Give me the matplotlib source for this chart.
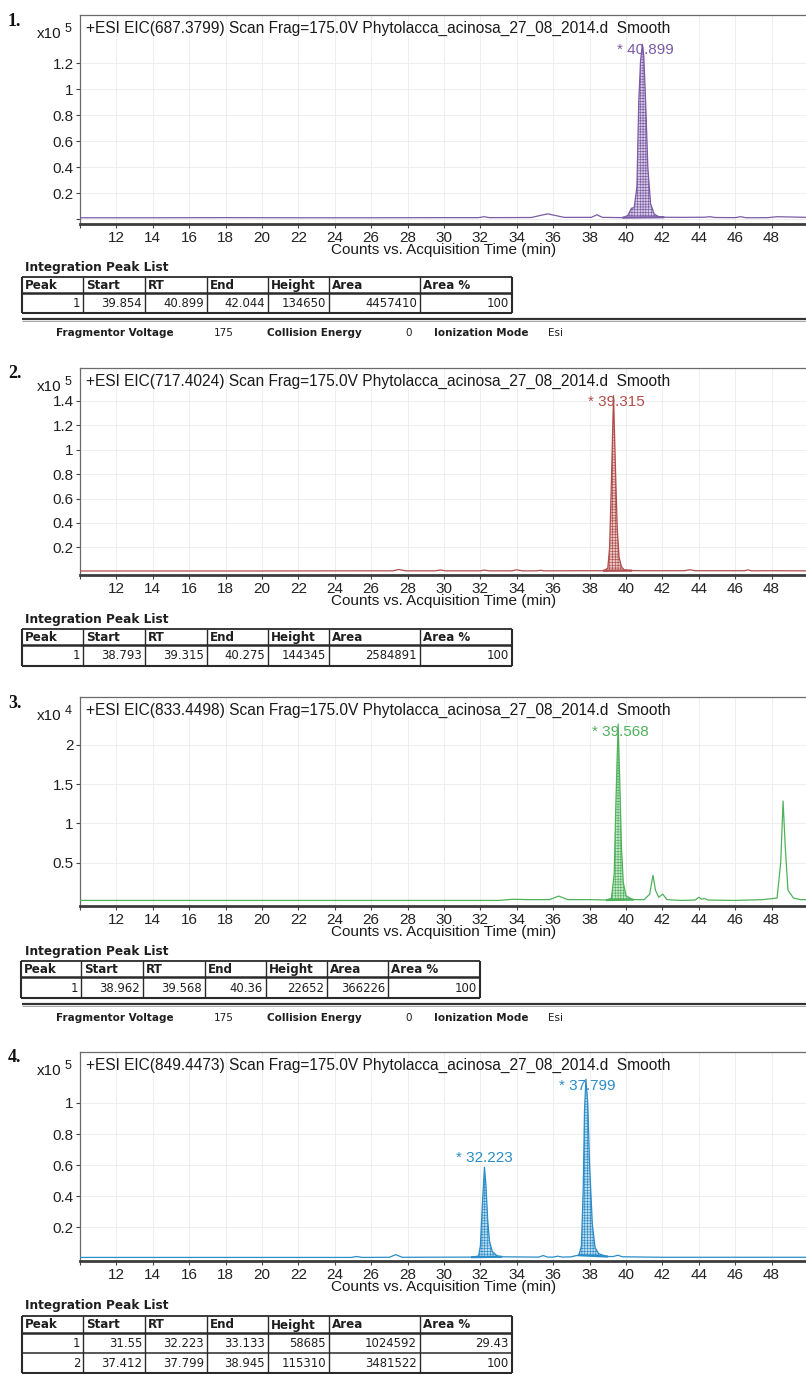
import numpy as np
import matplotlib.pyplot as plt
from matplotlib.lines import Line2D

# ---- values ----
# panel 1, EIC(687.3799), counts x10^5
t1 = [10, 14, 18, 22, 26, 30, 31.9, 32.2, 32.5, 34.8, 35.3, 35.7, 36.1, 36.6,
      38.1, 38.4, 38.7, 39.854, 40.1, 40.3, 40.45, 40.6, 40.7, 40.8, 40.899,
      40.98, 41.08, 41.2, 41.35, 41.55, 41.8, 42.044, 43.0, 44.3, 44.6, 44.9,
      46.0, 46.3, 46.6, 47.8, 48.3, 49.0, 50]
i1 = [0.012, 0.012, 0.013, 0.012, 0.012, 0.013, 0.013, 0.02, 0.013, 0.014,
      0.03, 0.042, 0.03, 0.015, 0.015, 0.035, 0.015, 0.013, 0.03, 0.085, 0.09,
      0.25, 0.9, 1.22, 1.3465, 1.25, 0.9, 0.4, 0.12, 0.04, 0.02, 0.016, 0.015,
      0.016, 0.02, 0.014, 0.013, 0.02, 0.012, 0.013, 0.02, 0.018, 0.015]

# panel 2, EIC(717.4024), counts x10^5
t2 = [10, 15, 20, 25, 27.2, 27.5, 27.9, 29.5, 29.8, 30.1, 32.0, 32.2, 32.5,
      33.7, 34.0, 34.3, 35.1, 35.3, 35.5, 37.6, 38.793, 39.0, 39.1, 39.2,
      39.315, 39.42, 39.52, 39.62, 39.75, 39.9, 40.275, 41.0, 43.2, 43.5, 43.8,
      46.5, 46.7, 46.9, 48.0, 50]
i2 = [0.006, 0.006, 0.006, 0.007, 0.007, 0.018, 0.007, 0.007, 0.014, 0.007,
      0.007, 0.013, 0.007, 0.007, 0.015, 0.007, 0.007, 0.012, 0.007, 0.008,
      0.008, 0.03, 0.2, 0.75, 1.443, 0.85, 0.35, 0.12, 0.04, 0.015, 0.009,
      0.008, 0.008, 0.016, 0.008, 0.008, 0.015, 0.007, 0.008, 0.007]

# panel 3, EIC(833.4498), counts x10^4
t3 = [10, 20, 30, 33.0, 33.8, 34.6, 35.8, 36.3, 36.8, 38.0, 38.962, 39.2,
      39.35, 39.45, 39.568, 39.65, 39.75, 39.85, 40.0, 40.36, 41.0, 41.3,
      41.48, 41.62, 41.8, 42.02, 42.25, 43.0, 43.8, 44.0, 44.15, 44.3, 44.5,
      46.0, 47.5, 48.3, 48.5, 48.63, 48.75, 48.9, 49.2, 49.6, 50]
i3 = [0.02, 0.02, 0.02, 0.02, 0.035, 0.03, 0.03, 0.075, 0.03, 0.03, 0.025,
      0.05, 0.35, 1.3, 2.2652, 1.6, 0.7, 0.25, 0.08, 0.03, 0.03, 0.1, 0.34,
      0.15, 0.06, 0.1, 0.03, 0.02, 0.025, 0.06, 0.035, 0.045, 0.025, 0.02,
      0.03, 0.05, 0.5, 1.285, 0.7, 0.15, 0.05, 0.03, 0.03]

# panel 4, EIC(849.4473), counts x10^5
t4 = [10, 15, 20, 24.9, 25.2, 25.5, 27.0, 27.35, 27.7, 31.55, 31.9, 32.0,
      32.1, 32.223, 32.3, 32.4, 32.5, 32.65, 32.9, 33.133, 35.2, 35.45, 35.7,
      36.0, 36.25, 36.5, 37.0, 37.2, 37.412, 37.55, 37.65, 37.72, 37.799,
      37.9, 38.0, 38.15, 38.3, 38.5, 38.945, 39.3, 39.55, 39.8, 42, 46, 50]
i4 = [0.006, 0.006, 0.006, 0.006, 0.012, 0.006, 0.007, 0.024, 0.007, 0.008,
      0.015, 0.08, 0.33, 0.5869, 0.48, 0.25, 0.11, 0.045, 0.018, 0.01, 0.008,
      0.018, 0.008, 0.008, 0.014, 0.008, 0.01, 0.016, 0.02, 0.08, 0.45, 0.95,
      1.1531, 1.0, 0.6, 0.22, 0.07, 0.03, 0.012, 0.012, 0.02, 0.01, 0.007,
      0.007, 0.007]

titles = [
    "+ESI EIC(687.3799) Scan Frag=175.0V Phytolacca_acinosa_27_08_2014.d  Smooth",
    "+ESI EIC(717.4024) Scan Frag=175.0V Phytolacca_acinosa_27_08_2014.d  Smooth",
    "+ESI EIC(833.4498) Scan Frag=175.0V Phytolacca_acinosa_27_08_2014.d  Smooth",
    "+ESI EIC(849.4473) Scan Frag=175.0V Phytolacca_acinosa_27_08_2014.d  Smooth",
]
exponents = [5, 5, 4, 5]

# integration peak lists: peak, start, RT, end, height, area, area %
table1 = [[1, 39.854, 40.899, 42.044, 134650, 4457410, 100]]
table2 = [[1, 38.793, 39.315, 40.275, 144345, 2584891, 100]]
table3 = [[1, 38.962, 39.568, 40.36, 22652, 366226, 100]]
table4 = [[1, 31.55, 32.223, 33.133, 58685, 1024592, 29.43],
          [2, 37.412, 37.799, 38.945, 115310, 3481522, 100]]
table_heads = ["Peak", "Start", "RT", "End", "Height", "Area", "Area %"]

info_labels = ["Fragmentor Voltage", "Collision Energy", "Ionization Mode"]
info_values = ["175", "0", "Esi"]

xticks = list(range(10, 50, 2))

# ---- layout (pixel positions of the scan) ----
W, H = 806, 1374
plt.rcParams['font.family'] = ['Liberation Sans', 'DejaVu Sans']
plt.rcParams['hatch.linewidth'] = 0.45
fig = plt.figure(figsize=(W / 100, H / 100), dpi=100)
PT = 0.72  # points per pixel


def fx(x):
    return x / W


def fy(y):
    return 1 - y / H


def line(x0, x1, y0, y1, lw, color='#2a2a2a'):
    fig.add_artist(Line2D([fx(x0), fx(x1)], [fy(y0), fy(y1)], lw=lw,
                          color=color, solid_capstyle='butt'))


def fmt(v):
    return ('%.3f' % v).rstrip('0').rstrip('.')


cols_a = [22, 83, 145, 207, 268, 329, 420, 512]
cols_b = [21, 81, 143, 205, 266, 327, 388, 480]
tf = dict(family='DejaVu Sans', color='#1e1e1e')


def draw_table(rows, label_y, top, hdr_b, row_h, cols):
    fig.text(fx(25), fy(label_y), "Integration Peak List", fontsize=8.7,
             fontweight='bold', va='center', **tf)
    bottom = hdr_b + row_h * len(rows)
    line(cols[0], cols[-1], top, top, 1.3)
    line(cols[0], cols[-1], hdr_b, hdr_b, 1.8)
    for k in range(1, len(rows)):
        line(cols[0], cols[-1], hdr_b + k * row_h, hdr_b + k * row_h, 1.1)
    line(cols[0], cols[-1], bottom, bottom, 1.5)
    for k, c in enumerate(cols):
        line(c, c, top, bottom, 1.5 if k in (0, len(cols) - 1) else 1.0)
    for k, h in enumerate(table_heads):
        fig.text(fx(cols[k] + 3), fy((top + hdr_b) / 2 + 0.5), h, fontsize=8.6,
                 fontweight='bold', va='center', **tf)
    for r, row in enumerate(rows):
        yc = hdr_b + row_h * (r + 0.5) + 0.5
        for k, v in enumerate(row):
            fig.text(fx(cols[k + 1] - 3), fy(yc), fmt(v), fontsize=8.4,
                     ha='right', va='center', **tf)


def draw_info(sep_y, text_y):
    line(22, 808, sep_y, sep_y, 1.6, '#333333')
    line(22, 808, sep_y + 2, sep_y + 2, 0.6, '#999999')
    for x, s in zip([56, 267, 434], info_labels):
        fig.text(fx(x), fy(text_y), s, fontsize=7.5, fontweight='bold',
                 va='center', **tf)
    for x, s in zip([214, 405, 548], info_values):
        fig.text(fx(x), fy(text_y), s, fontsize=7.5, va='center', **tf)


# offs: label shift from the apex in pixels (right, down)
panels = [
    dict(t=t1, i=i1, tab=table1, color='#7b5aa6', top=15, bottom=224,
         ylim=(-0.036, 1.572), yticks=[0, 0.2, 0.4, 0.6, 0.8, 1.0, 1.2],
         offs=[(3, 6)], num_y=21),
    dict(t=t2, i=i2, tab=table2, color='#b04d4a', top=368, bottom=575,
         ylim=(-0.027, 1.670), yticks=[0.2, 0.4, 0.6, 0.8, 1.0, 1.2, 1.4],
         offs=[(3, 6)], num_y=374),
    dict(t=t3, i=i3, tab=table3, color='#4fb25b', top=697, bottom=906,
         ylim=(-0.051, 2.608), yticks=[0.5, 1.0, 1.5, 2.0],
         offs=[(2, 8)], num_y=703),
    dict(t=t4, i=i4, tab=table4, color='#2a8cc8', top=1052, bottom=1261,
         ylim=(-0.017, 1.328), yticks=[0.2, 0.4, 0.6, 0.8, 1.0],
         offs=[(0, -9), (1, 7)], num_y=1058),
]

for n, p in enumerate(panels):
    ax = fig.add_axes([fx(80), fy(p['bottom']), (808 - 80) / W,
                       (p['bottom'] - p['top']) / H])
    t = np.array(p['t'])
    y = np.array(p['i'])
    c = p['color']
    ax.plot(t, y, color=c, lw=0.9, zorder=3)

    # integrated peaks: hatched area above the drawn baseline
    for row, (dx, dy) in zip(p['tab'], p['offs']):
        start, rt, end = row[1], row[2], row[3]
        m = (t >= start) & (t <= end)
        ys, ye = y[t == start][0], y[t == end][0]
        base = np.interp(t[m], [start, end], [ys, ye])
        ax.fill_between(t[m], base, y[m], facecolor=c, alpha=0.3, lw=0,
                        zorder=2)
        ax.fill_between(t[m], base, y[m], facecolor='none', edgecolor=c,
                        hatch='++++++', lw=0, zorder=2)
        ax.plot([start, end], [ys, ye], color=c, lw=1.6, zorder=3)
        apex = row[4] / 10 ** exponents[n]
        ax.annotate("* " + fmt(rt), (rt, apex), xytext=(dx * PT, -dy * PT),
                    textcoords='offset points', ha='center', va='center',
                    fontsize=11, color=c, zorder=4)

    ax.set_xlim(10, 50)
    ax.set_ylim(*p['ylim'])
    ax.set_xticks(xticks)
    ax.set_xticklabels([''] + [str(v) for v in xticks[1:]])
    ax.set_yticks(p['yticks'])
    ax.set_yticklabels([('' if v == 0 else '%g' % v) for v in p['yticks']])
    ax.tick_params(axis='both', length=3, width=0.8, color='#444444',
                   labelsize=11, labelcolor='#222222')
    ax.tick_params(axis='x', pad=2.2)
    ax.tick_params(axis='y', pad=1.6)
    ax.grid(True, color='#ebebeb', lw=0.6, zorder=0)
    for side in ('left', 'top', 'right'):
        ax.spines[side].set_color('#6a6a6a')
        ax.spines[side].set_linewidth(0.9)
    ax.spines['bottom'].set_color('#3c3c3c')
    ax.spines['bottom'].set_linewidth(2.0)

    ax.annotate(titles[n], (0, 1), xycoords='axes fraction',
                xytext=(6 * PT, -13.5 * PT), textcoords='offset points',
                ha='left', va='center', fontsize=11.2, color='#1a1a1a')
    ax.annotate("Counts vs. Acquisition Time (min)", (0.5, 0),
                xycoords='axes fraction', xytext=(0, -26 * PT),
                textcoords='offset points', ha='center', va='center',
                fontsize=11, color='#1a1a1a')

    fig.text(fx(61), fy(p['top'] + 19), "x10", fontsize=11, ha='right',
             va='center', color='#1a1a1a')
    fig.text(fx(65), fy(p['top'] + 14), str(exponents[n]), fontsize=9,
             ha='left', va='center', color='#1a1a1a')
    fig.text(fx(8), fy(p['num_y']), "%d." % (n + 1), fontsize=13,
             fontweight='bold', family='Liberation Serif', ha='left',
             va='center', color='#111111')

draw_table(table1, 267, 277, 293, 20, cols_a)
draw_info(319, 333)
draw_table(table2, 619, 629, 645, 21, cols_a)
draw_table(table3, 951, 961, 977, 21, cols_b)
draw_info(1004, 1018)
draw_table(table4, 1306, 1316, 1333, 20, cols_a)

fig.savefig("out.png", dpi=100, facecolor='white')
